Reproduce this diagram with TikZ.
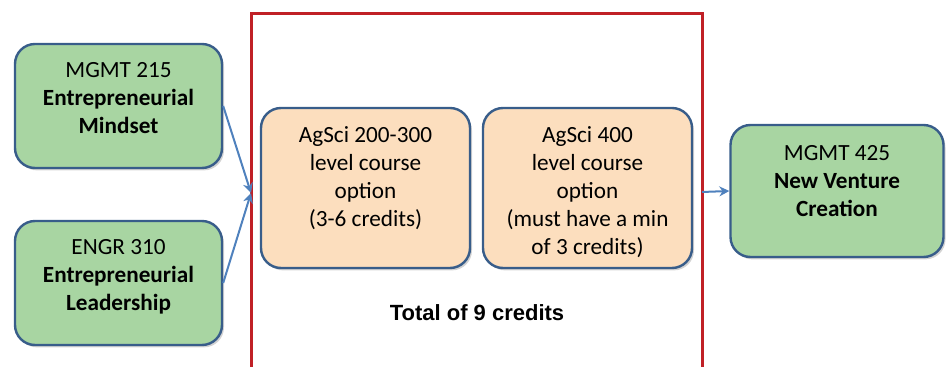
\documentclass[tikz,border=0pt]{standalone}
\usepackage{fontspec}
\setmainfont{Carlito}
\newfontfamily\arialfont{Liberation Sans}
\usepackage{xcolor}
\usetikzlibrary{positioning,calc,arrows.meta,shadows}

\definecolor{boxgreen}{RGB}{168,213,162}
\definecolor{boxpeach}{RGB}{252,222,190}
\definecolor{boxline}{RGB}{56,93,138}
\definecolor{framered}{RGB}{192,32,38}
\definecolor{arrowblue}{RGB}{79,129,189}

\tikzset{
	course/.style={draw=boxline, line width=1.2pt, rounded corners=10pt,
		drop shadow={shadow xshift=1pt, shadow yshift=-1.2pt, opacity=0.35}},
	greenbox/.style={course, fill=boxgreen, minimum width=103.5pt, minimum height=62pt},
	peachbox/.style={course, fill=boxpeach, minimum width=104.5pt, minimum height=80pt},
	boxtext/.style={align=center, inner sep=0pt, font=\fontsize{11.6}{14.1}\selectfont},
	flow/.style={draw=arrowblue, line width=1pt, -{Stealth[length=5pt,width=5pt]}}
}

\begin{document}
\begin{tikzpicture}[x=0.5pt,y=-0.5pt]
			\useasboundingbox (0,0) rectangle (947,367);
			
			% khung đỏ (tổng 9 tín chỉ)
			\draw[framered, line width=1.5pt] (251,380) -- (251,14) -- (702,14) -- (702,380);
			\coordinate (join) at (251,193);
			\coordinate (exit) at (702,192);
			
			% các môn bắt buộc bên trái
			\node[greenbox] (mindset) at (118.5,106) {};
			\node[boxtext, below=9.5pt of mindset.north] (mindset text) {MGMT 215\\ \textbf{Entrepreneurial}\\ \textbf{Mindset}};
			\node[greenbox] (leadership) at (118.5,283) {};
			\node[boxtext, below=9.5pt of leadership.north] (leadership text) {ENGR 310\\ \textbf{Entrepreneurial}\\ \textbf{Leadership}};
			
			% các môn tự chọn AgSci
			\node[peachbox] (agsci low) at (365.5,188) {};
			\node[boxtext, below=9.5pt of agsci low.north] (agsci low text) {AgSci 200-300\\ level course\\ option\\ (3-6 credits)};
			\node[peachbox] (agsci high) at (587.5,188) {};
			\node[boxtext, below=9.5pt of agsci high.north] (agsci high text) {AgSci 400\\ level course\\ option\\ (must have a min\\ of 3 credits)};
			\node[font=\arialfont\bfseries\fontsize{11}{13}\selectfont, inner sep=0pt] (total) at (477,313) {Total of 9 credits};
			
			% môn cuối
			\node[greenbox, minimum width=106.5pt, minimum height=66pt] (venture) at (837,191) {};
			\node[boxtext, below=10.5pt of venture.north] (venture text) {MGMT 425\\ \textbf{New Venture}\\ \textbf{Creation}};
			
			% mũi tên
			\draw[flow] (mindset.east) -- (join);
			\draw[flow] (leadership.east) -- (join);
			\draw[flow] (exit) -- (venture.west);
		\end{tikzpicture}
\end{document}
